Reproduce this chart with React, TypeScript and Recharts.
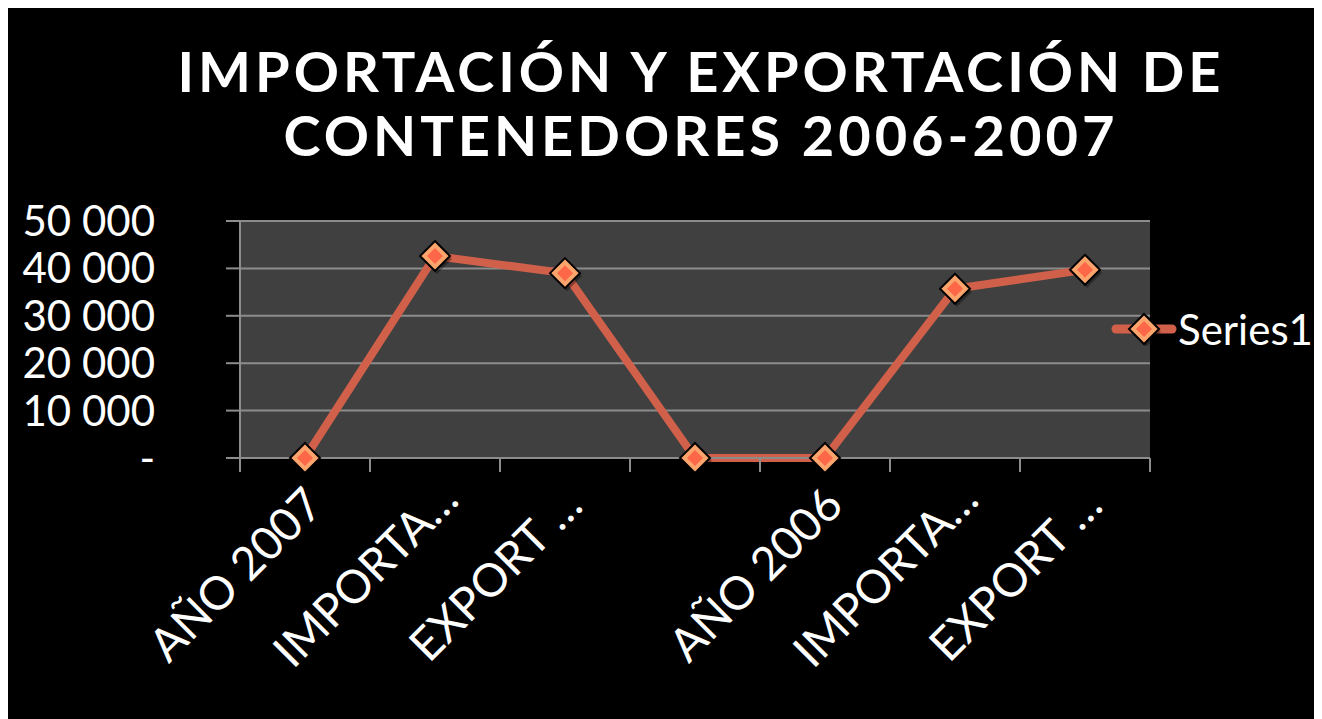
import { LineChart, Line, XAxis, YAxis, CartesianGrid } from "recharts";

const categories = ["AÑO 2007", "IMPORTA…", "EXPORT …", "", "AÑO 2006", "IMPORTA…", "EXPORT …"];
const series1 = [0, 42600, 39000, 0, 0, 35700, 39700];
const yTicks = [0, 10000, 20000, 30000, 40000, 50000];
const titleLines = ["IMPORTACIÓN Y EXPORTACIÓN DE", "CONTENEDORES 2006-2007"];
const seriesName = "Series1";

const W = 1314;
const H = 711;
const M = { top: 213, right: 172, bottom: 0, left: 0 };
const Y_W = 232;
const X_H = 261;
const HALF_BAND = (W - M.right - Y_W) / categories.length / 2;

const FONT = "Lato, 'Open Sans', sans-serif";
const GRID = "#8c8c8c";
const LINE = "#d1604a";

const data = categories.map((c, i) => ({ cat: c, v: series1[i] }));

const fmtY = (v: number) => (v === 0 ? "-" : v.toLocaleString("en-US").replace(/,/g, " "));

function Diamond({ cx, cy }: any) {
  if (cx == null || cy == null) return null;
  const o = 15, n = 8;
  return (
    <g>
      <polygon points={`${cx + 2},${cy - o + 3} ${cx + o + 2},${cy + 3} ${cx + 2},${cy + o + 3} ${cx - o + 2},${cy + 3}`} fill="rgba(0,0,0,0.35)" />
      <polygon points={`${cx},${cy - o} ${cx + o},${cy} ${cx},${cy + o} ${cx - o},${cy}`} fill="#fba56d" stroke="#000" strokeWidth={2} />
      <polygon points={`${cx},${cy - n} ${cx + n},${cy} ${cx},${cy + n} ${cx - n},${cy}`} fill="#fe6747" />
    </g>
  );
}

function XTick({ x, y, payload, index }: any) {
  const last = index === categories.length - 1;
  const ax = x - 58;
  const ay = y + 128;
  return (
    <g>
      <line x1={x - HALF_BAND} x2={x - HALF_BAND} y1={y} y2={y + 14} stroke={GRID} strokeWidth={2} />
      {last && <line x1={x + HALF_BAND} x2={x + HALF_BAND} y1={y} y2={y + 14} stroke={GRID} strokeWidth={2} />}
      <text x={ax} y={ay} transform={`rotate(-45, ${ax}, ${ay})`} textAnchor="middle" fill="#fff" fontSize={46} fontFamily={FONT}>
        {payload.value}
      </text>
    </g>
  );
}

export default function App() {
  return (
    <div style={{ position: "relative", width: W, height: H, background: "#000", overflow: "hidden" }}>
      <div style={{ position: "absolute", top: 31, left: 36, width: W, textAlign: "center", color: "#fff", fontFamily: FONT, fontWeight: 700, fontSize: 56, lineHeight: "64px", letterSpacing: 4 }}>
        {titleLines.map((t, i) => <div key={i}>{t}</div>)}
      </div>
      <LineChart width={W} height={H} data={data} margin={M}>
        <CartesianGrid vertical={false} fill="#404040" stroke={GRID} strokeWidth={2} />
        <XAxis dataKey="cat" interval={0} height={X_H} tickSize={0} tickMargin={0}
          padding={{ left: HALF_BAND, right: HALF_BAND }}
          axisLine={{ stroke: GRID, strokeWidth: 2 }} tick={<XTick />} />
        <YAxis domain={[0, 50000]} ticks={yTicks} interval={0} width={Y_W} tickSize={14} tickMargin={71} tickFormatter={fmtY}
          axisLine={{ stroke: GRID, strokeWidth: 2 }} tickLine={{ stroke: GRID, strokeWidth: 2 }}
          tick={{ fill: "#fff", fontSize: 42, fontFamily: FONT }} />
        <Line dataKey="v" name={seriesName} stroke={LINE} strokeWidth={8} dot={<Diamond />} activeDot={false} isAnimationActive={false} />
      </LineChart>
      <div style={{ position: "absolute", left: 1102, top: 296, display: "flex", alignItems: "center" }}>
        <svg width={68} height={34}>
          <line x1={6} x2={62} y1={17} y2={17} stroke={LINE} strokeWidth={9} strokeLinecap="round" />
          <Diamond cx={34} cy={17} />
        </svg>
        <span style={{ color: "#fff", fontFamily: FONT, fontSize: 42, marginLeft: 0, lineHeight: "50px" }}>{seriesName}</span>
      </div>
    </div>
  );
}
